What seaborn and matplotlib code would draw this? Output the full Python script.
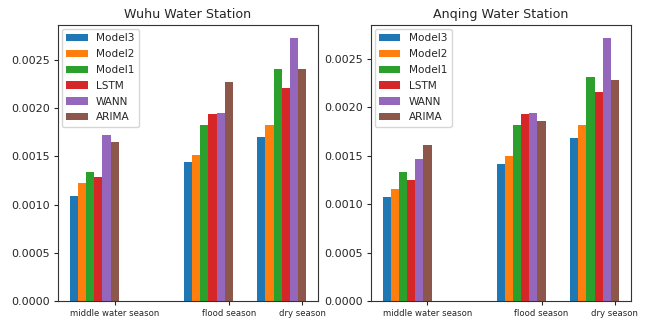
import numpy as np
import pandas as pd
import matplotlib
matplotlib.use("Agg")
import matplotlib.pyplot as plt
from matplotlib.transforms import ScaledTranslation
import seaborn as sns

seasons = ["middle water season", "flood season", "dry season"]
models = ["Model3", "Model2", "Model1", "LSTM", "WANN", "ARIMA"]

wuhu_model3 = [0.001094, 0.001444, 0.001704]
wuhu_model2 = [0.001222, 0.001520, 0.001828]
wuhu_model1 = [0.001343, 0.001828, 0.002403]
wuhu_lstm = [0.001288, 0.001939, 0.002216]
wuhu_wann = [0.001728, 0.001949, 0.002729]
wuhu_arima = [0.001655, 0.002278, 0.002410]

anqing_model3 = [0.001079, 0.001414, 0.001686]
anqing_model2 = [0.001162, 0.001496, 0.001817]
anqing_model1 = [0.001334, 0.001814, 0.002314]
anqing_lstm = [0.001255, 0.001931, 0.002162]
anqing_wann = [0.001472, 0.001938, 0.002717]
anqing_arima = [0.001607, 0.001862, 0.002283]

stations = [
    ("Wuhu Water Station", [wuhu_model3, wuhu_model2, wuhu_model1, wuhu_lstm, wuhu_wann, wuhu_arima]),
    ("Anqing Water Station", [anqing_model3, anqing_model2, anqing_model1, anqing_lstm, anqing_wann, anqing_arima]),
]

# layout: group centres on a numeric axis
group_pos = np.array([0.0, 1.4, 2.3])
bar_w = 0.1

sns.set_style("white")
plt.rcParams["font.family"] = ["DejaVu Sans"]

fig = plt.figure(figsize=(6.46, 3.24), dpi=100)
axes = [fig.add_axes([0.0898, 0.071, 0.4025, 0.852]),
        fig.add_axes([0.574, 0.071, 0.4025, 0.852])]

palette = sns.color_palette("tab10", 6)

for i, (ax, (title, series)) in enumerate(zip(axes, stations)):
    rows = []
    for m, vals in zip(models, series):
        for p, v in zip(group_pos, vals):
            rows.append({"x": p, "model": m, "value": v})
    df = pd.DataFrame(rows)
    sns.barplot(data=df, x="x", y="value", hue="model", hue_order=models,
                palette=palette, native_scale=True, width=0.6 / 0.9,
                errorbar=None, ax=ax, saturation=1, linewidth=0)
    ax.set_xlim(group_pos[0] - 0.3 - 0.145, group_pos[-1] + 0.3 + 0.145)
    ax.set_ylim(0, df["value"].max() * 1.05)
    ax.set_xticks(group_pos + 2.5 * bar_w)
    ax.set_xticklabels(seasons, fontsize=6.15)
    if i == 0:
        off = ScaledTranslation(-14 / 100, 0, fig.dpi_scale_trans)
        for lbl in ax.get_xticklabels():
            lbl.set_transform(lbl.get_transform() + off)
    ax.set_yticks([0, 0.0005, 0.0010, 0.0015, 0.0020, 0.0025])
    ax.set_yticklabels(["0.0000", "0.0005", "0.0010", "0.0015", "0.0020", "0.0025"], fontsize=8.0)
    ax.set_xlabel("")
    ax.set_ylabel("")
    ax.set_title(title, fontsize=9.1, pad=5)
    ax.tick_params(axis="both", which="both", direction="out", length=3, width=0.8,
                   bottom=True, left=True, pad=2.5)
    for s in ax.spines.values():
        s.set_color("#333333")
        s.set_linewidth(0.8)
    leg = ax.legend(loc="upper left", fontsize=7.6, title=None, frameon=True,
                    handlelength=2.0, borderaxespad=0.4, labelspacing=0.55)
    leg.get_frame().set_edgecolor("#cccccc")

fig.savefig("out.png", dpi=100)
